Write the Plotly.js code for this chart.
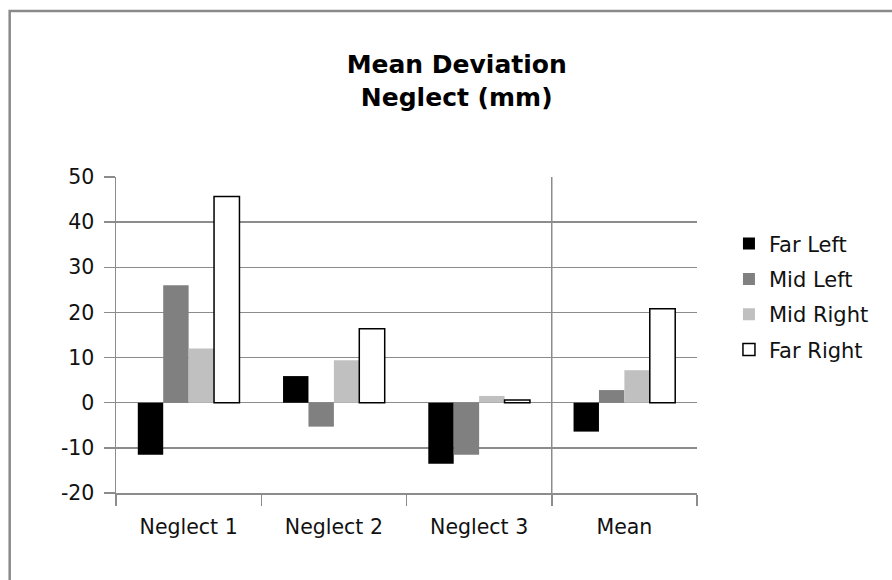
<!DOCTYPE html>
<html>
<head>
<meta charset="utf-8">
<script src="https://cdn.plot.ly/plotly-3.0.1.min.js"></script>
<style>html,body{margin:0;padding:0;background:#fff;}#chart{width:892px;height:580px;}</style>
</head>
<body>
<div id="chart"></div>
<script>
const categories = ["Neglect 1", "Neglect 2", "Neglect 3", "Mean"];
const seriesNames = ["Far Left", "Mid Left", "Mid Right", "Far Right"];
const farLeft  = [-11.5, 5.9, -13.5, -6.4];
const midLeft  = [26.0, -5.3, -11.5, 2.8];
const midRight = [12.0, 9.4, 1.5, 7.2];
const farRight = [45.7, 16.4, 0.6, 20.8];
const yTicks = [-20, -10, 0, 10, 20, 30, 40, 50];

const seriesValues = [farLeft, midLeft, midRight, farRight];
const fills = ["#000000", "#808080", "#c0c0c0", "#ffffff"];
const outlines = [0, 0, 0, 1.5];

const FONT = "DejaVu Sans";
const GRID = "#8c8c8c";

const traces = seriesValues.map((vals, i) => ({
  type: "bar",
  name: seriesNames[i],
  x: categories,
  y: vals,
  legendgroup: "g" + i,
  marker: { color: fills[i], line: { color: "#000000", width: outlines[i] } },
  hoverinfo: "x+y+name"
}));

const layout = {
  width: 892,
  height: 580,
  paper_bgcolor: "#ffffff",
  plot_bgcolor: "#ffffff",
  margin: { l: 115.5, r: 195, t: 177, b: 87, pad: 0 },
  barmode: "group",
  bargap: 0.30,
  bargroupgap: 0,
  title: {
    text: "<b>Mean Deviation</b><br><b>Neglect (mm)</b>",
    font: { family: FONT, size: 25, color: "#000000" },
    x: 0.512, xref: "container", xanchor: "center",
    y: 0.874, yref: "container", yanchor: "middle"
  },
  font: { family: FONT, size: 21, color: "#111111" },
  xaxis: {
    type: "category",
    tickson: "boundaries",
    ticks: "outside",
    ticklen: 11,
    tickwidth: 1.5,
    tickcolor: GRID,
    showline: true,
    linecolor: GRID,
    linewidth: 1.5,
    showgrid: false,
    zeroline: false,
    tickfont: { family: FONT, size: 20.5, color: "#111111" },
    ticklabelstandoff: 15,
    fixedrange: true
  },
  yaxis: {
    range: [-20, 50],
    tickvals: yTicks,
    ticktext: yTicks.map(String),
    ticks: "outside",
    ticklen: 11,
    tickwidth: 1.5,
    tickcolor: GRID,
    showline: true,
    linecolor: GRID,
    linewidth: 1.5,
    showgrid: true,
    gridcolor: GRID,
    gridwidth: 1.5,
    zeroline: false,
    tickfont: { family: FONT, size: 20.5, color: "#111111" },
    ticklabelstandoff: 5,
    fixedrange: true
  },
  legend: {
    x: 1.055, xref: "paper", xanchor: "left",
    y: 0.853, yref: "paper", yanchor: "top",
    traceorder: "grouped",
    tracegroupgap: 5,
    font: { family: FONT, size: 21, color: "#111111" },
    bgcolor: "rgba(0,0,0,0)",
    borderwidth: 0
  },
  shapes: [
    { type: "line", xref: "x", yref: "y", x0: 2.5, x1: 2.5, y0: -20, y1: 50,
      line: { color: GRID, width: 1.5 } },
    { type: "rect", xref: "paper", yref: "paper", x0: -0.183, x1: 2.0, y0: -1.0, y1: 1.525,
      line: { color: "#8a8a8a", width: 2.5 }, fillcolor: "rgba(0,0,0,0)", layer: "below" }
  ],
  showlegend: true
};

Plotly.newPlot("chart", traces, layout, { displayModeBar: false, staticPlot: true });
</script>
</body>
</html>
